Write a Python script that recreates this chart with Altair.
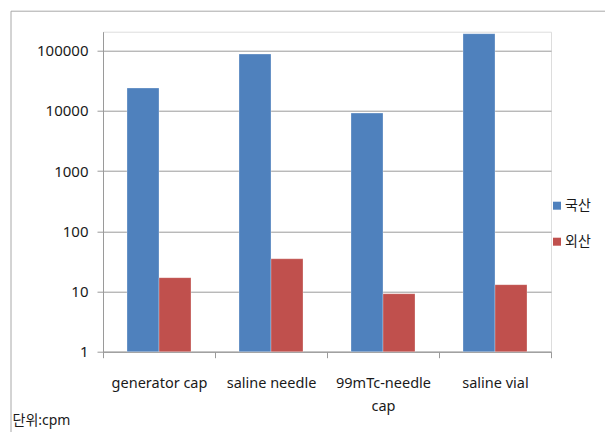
import altair as alt
import pandas as pd

categories = ["generator cap", "saline needle", "99mTc-needle cap", "saline vial"]
series_names = ["국산", "외산"]
domestic = [24000, 88000, 9200, 192000]
foreign = [17, 35, 9.2, 13]
y_ticks = [1, 10, 100, 1000, 10000, 100000]

rows = []
for c, d, f in zip(categories, domestic, foreign):
    rows.append({"category": c, "series": series_names[0], "value": d})
    rows.append({"category": c, "series": series_names[1], "value": f})
df = pd.DataFrame(rows)

FONT = "Noto Sans, Noto Sans CJK KR"
GRAY = "#9a9a9a"
TXT = "#1a1a1a"

bars = alt.Chart(df).mark_bar(stroke="#ffffff", strokeOpacity=0.35, strokeWidth=0.8).encode(
    x=alt.X(
        "category:N",
        sort=categories,
        scale=alt.Scale(paddingInner=0, paddingOuter=0),
        axis=alt.Axis(
            title="단위:cpm",
            titleX=-91,
            titleY=69,
            titleAlign="left",
            titleBaseline="middle",
            titleAngle=0,
            titleFontSize=14,
            titleFontWeight="normal",
            titleColor=TXT,
            titleFont=FONT,
            labelAngle=0,
            labelFontSize=14.5,
            labelFont=FONT,
            labelColor=TXT,
            labelPadding=19,
            labelLineHeight=23,
            labelLimit=300,
            labelOverlap=False,
            labelExpr="datum.value == '99mTc-needle cap' ? ['99mTc-needle', 'cap'] : datum.label",
            tickBand="extent",
            tickSize=6,
            tickColor=GRAY,
            domainColor=GRAY,
            grid=False,
        ),
    ),
    xOffset=alt.XOffset(
        "series:N",
        sort=series_names,
        scale=alt.Scale(paddingInner=0, paddingOuter=0.75),
    ),
    y=alt.Y(
        "value:Q",
        scale=alt.Scale(type="log", domain=[1, 207000], nice=False),
        axis=alt.Axis(
            title=None,
            values=y_ticks,
            format="d",
            labelFontSize=15,
            labelFont=FONT,
            labelColor=TXT,
            labelPadding=9,
            tickSize=6,
            tickColor=GRAY,
            domainColor=GRAY,
            gridColor=GRAY,
            gridOpacity=1,
        ),
    ),
    y2=alt.datum(1),
    color=alt.Color(
        "series:N",
        sort=series_names,
        scale=alt.Scale(domain=series_names, range=["#4F81BD", "#C0504D"]),
        legend=alt.Legend(
            title=None,
            orient="none",
            legendX=447,
            legendY=167,
            symbolType="square",
            symbolSize=64,
            symbolStrokeWidth=0,
            labelFontSize=14,
            labelFont=FONT,
            labelColor=TXT,
            labelOffset=1,
            rowPadding=22,
            padding=0,
        ),
    ),
)

frame = alt.Chart(alt.Data(values=[{"k": 1}])).mark_rect(
    fill="transparent", stroke="#a8a8a8", strokeWidth=1
).encode(
    x=alt.value(-92),
    x2=alt.value(700),
    y=alt.value(-20.5),
    y2=alt.value(600),
)

chart = alt.layer(frame, bars).properties(
    width=448,
    height=320,
    autosize=alt.AutoSizeParams(type="none"),
    padding={"left": 95, "top": 23.7, "right": 54, "bottom": 80.3},
).configure_view(strokeWidth=0).configure(font=FONT)

chart.save("out.html", embed_options={"renderer": "svg", "actions": False})
